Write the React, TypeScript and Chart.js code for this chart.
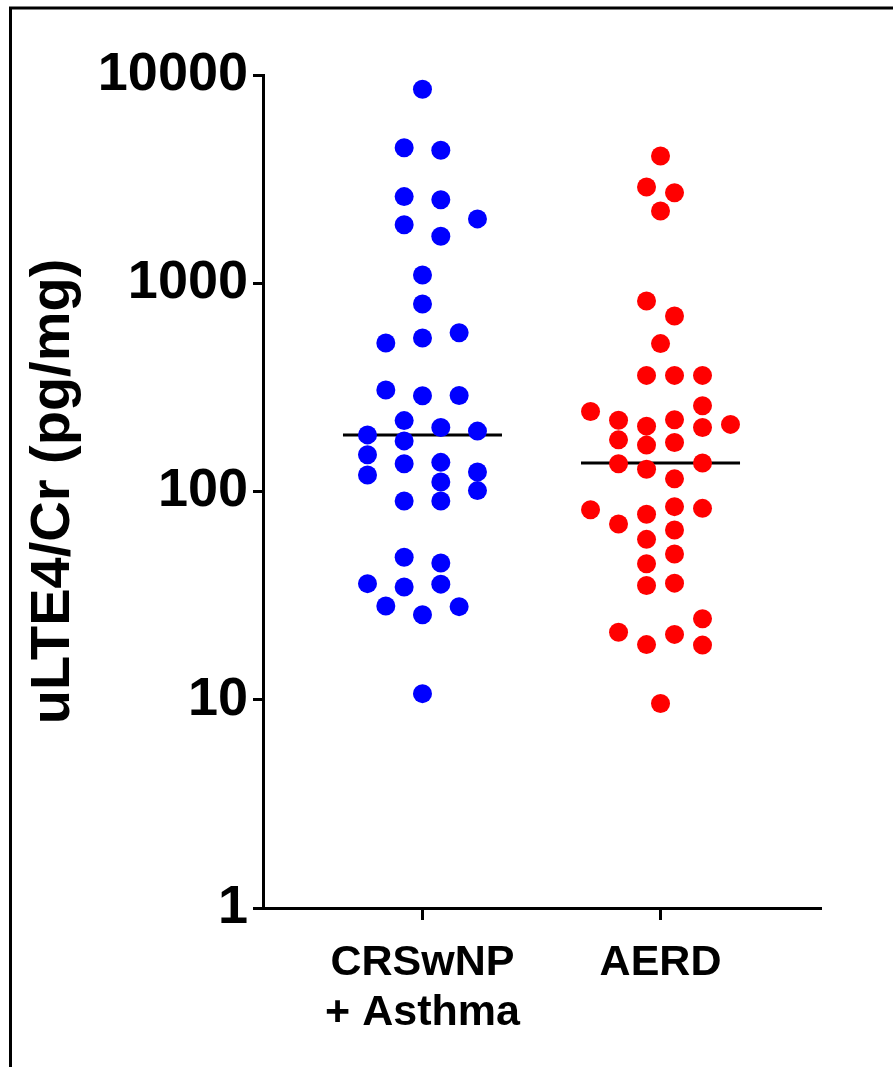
import React, { useEffect, useRef } from "react";
import { Chart, registerables } from "chart.js";

Chart.register(...registerables);

// ---- data ----
const categories: string[][] = [["CRSwNP", "+ Asthma"], ["AERD"]];
const yTickValues = [1, 10, 100, 1000, 10000];

const crswnpValues = [
  8535, 4477, 4348, 2606, 2518, 2037, 1910, 1683, 1096, 795, 579, 546, 517,
  307, 288, 289, 219, 203, 195, 187, 175, 150, 136, 138, 120, 124, 111, 101,
  90, 90, 48.3, 45.4, 36.1, 34.8, 35.9, 28.2, 25.6, 28.0, 10.7,
];
// swarm column index of each point (beeswarm layout of the original)
const crswnpColumns = [
  0, -1, 1, -1, 1, 3, -1, 1, 0, 0, 2, 0, -2, -2, 0, 2, -1, 1, 3, -3, -1, -3,
  -1, 1, -3, 3, 1, 3, -1, 1, -1, 1, -3, -1, 1, -2, 0, 2, 0,
];

const aerdValues = [
  4083, 2897, 2722, 2224, 822, 696, 513, 361, 361, 361, 258, 242, 220, 221,
  210, 206, 203, 177, 167, 172, 136, 137, 128, 115, 81.8, 84.6, 83.0, 69.8,
  77.8, 65.3, 58.9, 50.1, 45.0, 35.4, 36.3, 24.5, 21.1, 20.6, 18.4, 18.3, 9.6,
];
const aerdColumns = [
  0, -1, 1, 0, -1, 1, 0, -1, 1, 3, 3, -5, -3, 1, 5, -1, 3, -3, -1, 1, -3, 3,
  -1, 1, -5, 1, 3, -3, -1, 1, -1, 1, -1, -1, 1, 3, -3, 1, -1, 3, 0,
];

const medians = [187, 137];

// ---- layout constants ----
const W = 893;
const H = 1067;
const CRSWNP_STEP = 0.077;
const AERD_STEP = 0.0588;
const MEDIAN_HALF = 0.334;
const FONT = "'Liberation Sans', Arial, Helvetica, sans-serif";

const framePlugin = {
  id: "frame",
  beforeDraw(chart: any) {
    const ctx = chart.ctx;
    ctx.save();
    ctx.fillStyle = "#ffffff";
    ctx.fillRect(0, 0, chart.width, chart.height);
    ctx.strokeStyle = "#000000";
    ctx.lineWidth = 3;
    ctx.beginPath();
    ctx.moveTo(10.5, H);
    ctx.lineTo(10.5, 8);
    ctx.lineTo(W, 8);
    ctx.stroke();
    ctx.restore();
  },
};

export default function App() {
  const ref = useRef<HTMLCanvasElement | null>(null);

  useEffect(() => {
    if (!ref.current) return;
    const blue = crswnpValues.map((v, i) => ({ x: 1 + crswnpColumns[i] * CRSWNP_STEP, y: v }));
    const red = aerdValues.map((v, i) => ({ x: 2 + aerdColumns[i] * AERD_STEP, y: v }));

    const chart = new Chart(ref.current, {
      type: "scatter",
      data: {
        datasets: [
          {
            label: "CRSwNP + Asthma",
            data: blue,
            backgroundColor: "#0000ff",
            borderWidth: 0,
            pointRadius: 9.5,
            order: 1,
          },
          {
            label: "AERD",
            data: red,
            backgroundColor: "#ff0000",
            borderWidth: 0,
            pointRadius: 9.5,
            order: 1,
          },
          {
            type: "line",
            label: "median1",
            data: [
              { x: 1 - MEDIAN_HALF, y: medians[0] },
              { x: 1 + MEDIAN_HALF, y: medians[0] },
            ],
            borderColor: "#000000",
            borderWidth: 3,
            pointRadius: 0,
            showLine: true,
            order: 2,
          } as any,
          {
            type: "line",
            label: "median2",
            data: [
              { x: 2 - MEDIAN_HALF, y: medians[1] },
              { x: 2 + MEDIAN_HALF, y: medians[1] },
            ],
            borderColor: "#000000",
            borderWidth: 3,
            pointRadius: 0,
            showLine: true,
            order: 2,
          } as any,
        ],
      },
      options: {
        animation: false,
        responsive: false,
        maintainAspectRatio: false,
        layout: { padding: { top: 75, right: 73, left: 0, bottom: 0 } },
        plugins: {
          legend: { display: false },
          tooltip: { enabled: false },
        },
        scales: {
          x: {
            type: "linear",
            min: 0.33,
            max: 2.67,
            afterBuildTicks: (scale: any) => {
              scale.ticks = [{ value: 1 }, { value: 2 }];
            },
            afterFit: (scale: any) => {
              scale.height = H - 908;
            },
            ticks: {
              autoSkip: false,
              maxRotation: 0,
              padding: 18,
              color: "#000000",
              font: { family: FONT, size: 43, weight: "bold", lineHeight: 1.17 },
              callback: (value: any) => {
                const idx = Math.round(Number(value)) - 1;
                return categories[idx] ?? "";
              },
            },
            grid: {
              display: true,
              drawOnChartArea: false,
              drawTicks: true,
              tickLength: 12,
              tickWidth: 3,
              tickColor: "#000000",
              color: "#000000",
              lineWidth: 3,
            },
            border: { display: true, color: "#000000", width: 3 },
          },
          y: {
            type: "logarithmic",
            min: 1,
            max: 10000,
            afterBuildTicks: (scale: any) => {
              scale.ticks = yTickValues.map((v) => ({ value: v }));
            },
            afterFit: (scale: any) => {
              scale.width = 263;
            },
            ticks: {
              autoSkip: false,
              padding: 5,
              color: "#000000",
              font: { family: FONT, size: 54, weight: "bold" },
              callback: (value: any) => String(value),
            },
            grid: {
              display: true,
              drawOnChartArea: false,
              drawTicks: true,
              tickLength: 10,
              tickWidth: 3,
              tickColor: "#000000",
              color: "#000000",
              lineWidth: 3,
            },
            border: { display: true, color: "#000000", width: 3 },
            title: {
              display: true,
              text: "uLTE4/Cr (pg/mg)",
              color: "#000000",
              font: { family: FONT, size: 56, weight: "bold", lineHeight: 1.2 },
              padding: { top: 20, bottom: 0 },
            },
          },
        },
      },
      plugins: [framePlugin],
    } as any);

    return () => chart.destroy();
  }, []);

  return (
    <div style={{ position: "absolute", left: 0, top: 0, width: W, height: H }}>
      <canvas ref={ref} width={W} height={H} style={{ width: W, height: H, display: "block" }} />
    </div>
  );
}
